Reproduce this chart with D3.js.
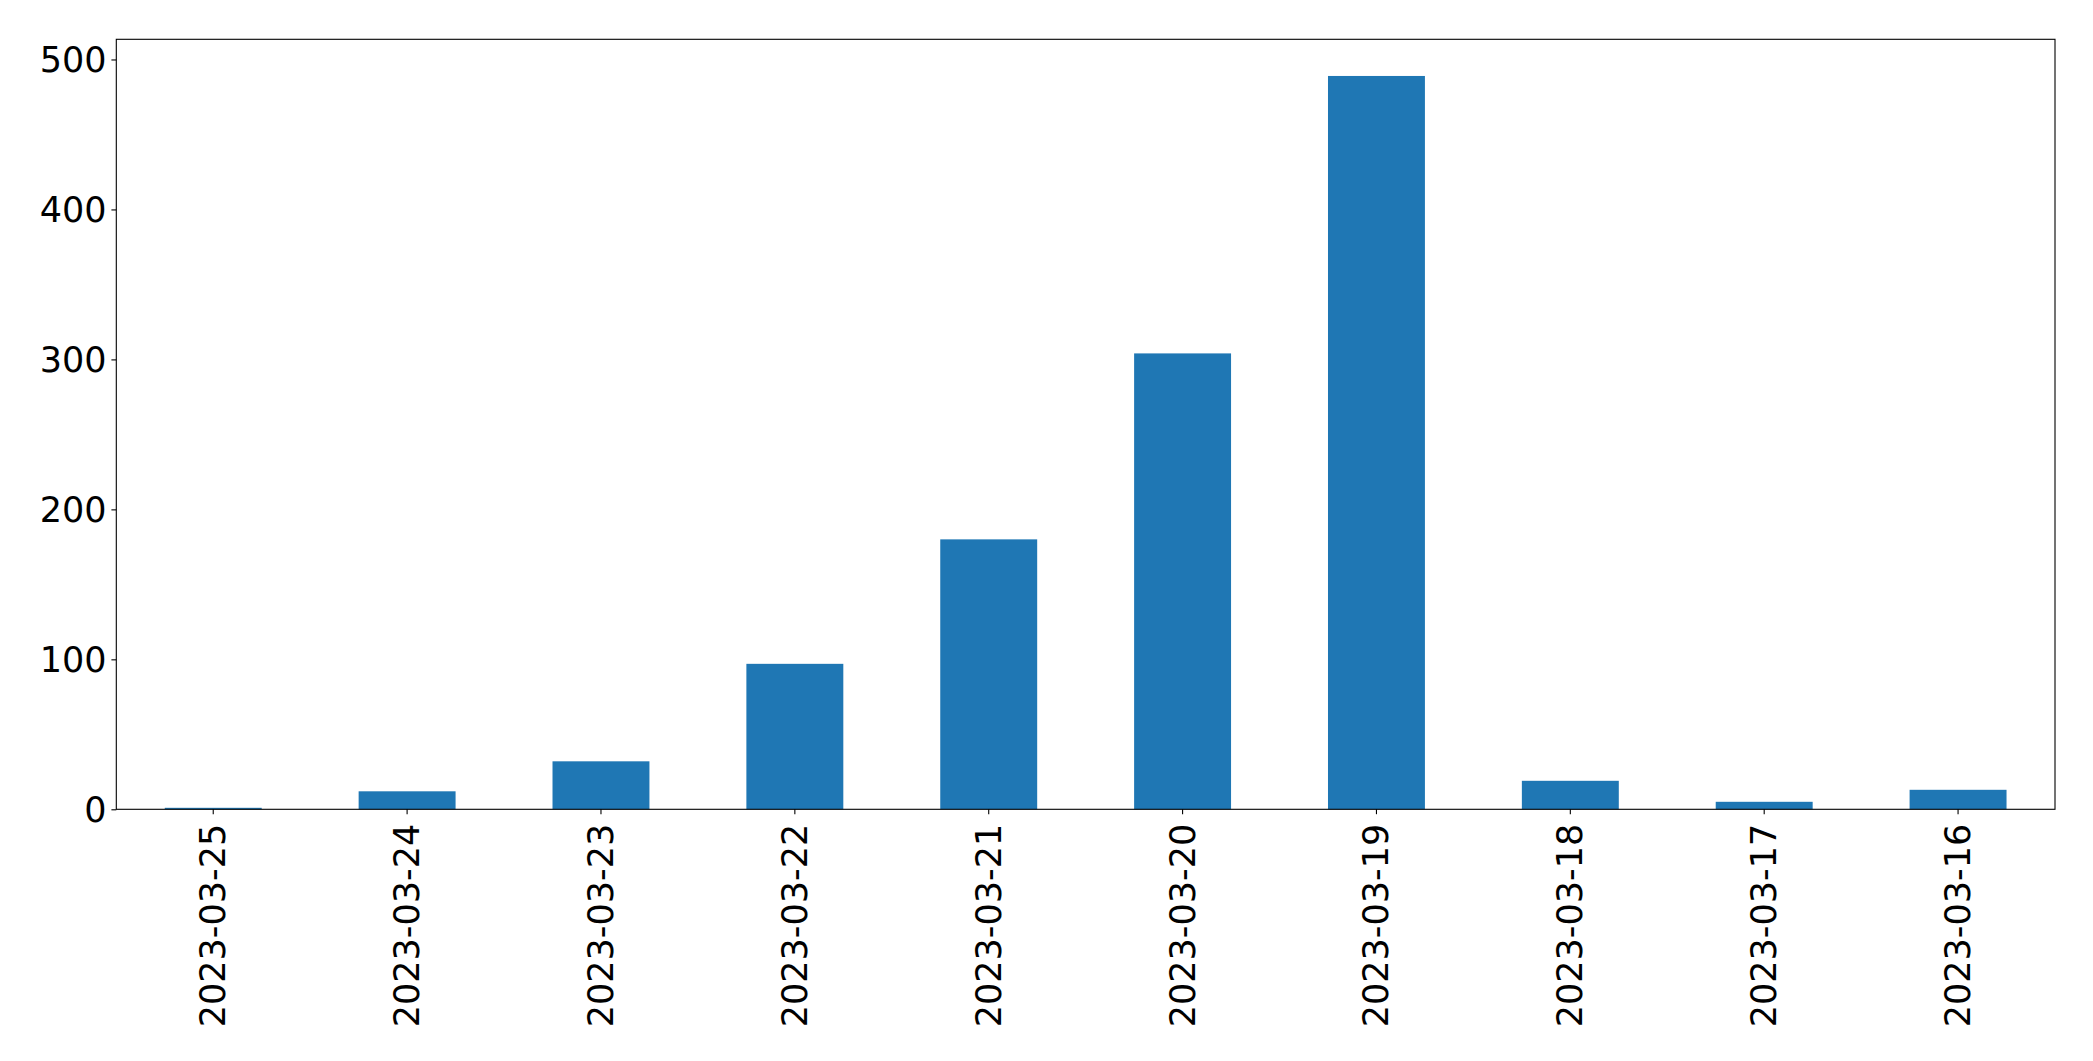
<!DOCTYPE html>
<html>
<head>
<meta charset="utf-8">
<script src="https://cdn.jsdelivr.net/npm/d3@7"></script>
<style>
  html, body { margin: 0; padding: 0; background: #fff; }
  svg { display: block; }
  text { font-family: "DejaVu Sans", sans-serif; fill: #000; }
</style>
</head>
<body>
<svg id="chart" width="2093" height="1061"></svg>
<script>
const categories = ["2023-03-25","2023-03-24","2023-03-23","2023-03-22","2023-03-21","2023-03-20","2023-03-19","2023-03-18","2023-03-17","2023-03-16"];
const values = [1, 12, 32, 97, 180, 304, 489, 19, 5, 13];
const yTicks = [0, 100, 200, 300, 400, 500];

const margin = {left: 116.3, top: 39.3, right: 2093 - 2055, bottom: 1061 - 809.3};
const W = 2093, H = 1061;
const svg = d3.select("#chart");

const x = d3.scaleBand()
  .domain(categories)
  .range([margin.left, W - margin.right])
  .paddingInner(0.5)
  .paddingOuter(0.25);

const yMax = d3.max(values) * 1.05;
const y = d3.scaleLinear().domain([0, yMax]).range([H - margin.bottom, margin.top]);

svg.append("g").selectAll("rect")
  .data(values)
  .join("rect")
  .attr("x", (d, i) => x(categories[i]))
  .attr("width", x.bandwidth())
  .attr("y", d => y(d))
  .attr("height", d => y(0) - y(d))
  .attr("fill", "#1f77b4");

const fs = 35;
const yAxis = svg.append("g")
  .attr("transform", `translate(${margin.left},0)`)
  .call(d3.axisLeft(y).tickValues(yTicks).tickSize(4.9).tickPadding(4.9).tickFormat(d3.format("d")));
yAxis.select(".domain").remove();
yAxis.selectAll("line").attr("stroke", "#000").attr("stroke-width", 1.1);
yAxis.selectAll("text").style("font-size", fs + "px").attr("dy", "0.35em");

const xAxis = svg.append("g")
  .attr("transform", `translate(0,${H - margin.bottom})`)
  .call(d3.axisBottom(x).tickSize(4.9).tickPadding(4.9));
xAxis.select(".domain").remove();
xAxis.selectAll("line").attr("stroke", "#000").attr("stroke-width", 1.1);
xAxis.selectAll("text")
  .style("font-size", fs + "px")
  .attr("transform", null)
  .attr("text-anchor", "end")
  .attr("y", 0).attr("x", 0).attr("dy", null)
  .attr("dominant-baseline", "central")
  .attr("transform", "translate(0,14.5) rotate(-90)");

svg.append("rect")
  .attr("x", margin.left).attr("y", margin.top)
  .attr("width", W - margin.right - margin.left)
  .attr("height", H - margin.bottom - margin.top)
  .attr("fill", "none").attr("stroke", "#000").attr("stroke-width", 1.1);
</script>
</body>
</html>
